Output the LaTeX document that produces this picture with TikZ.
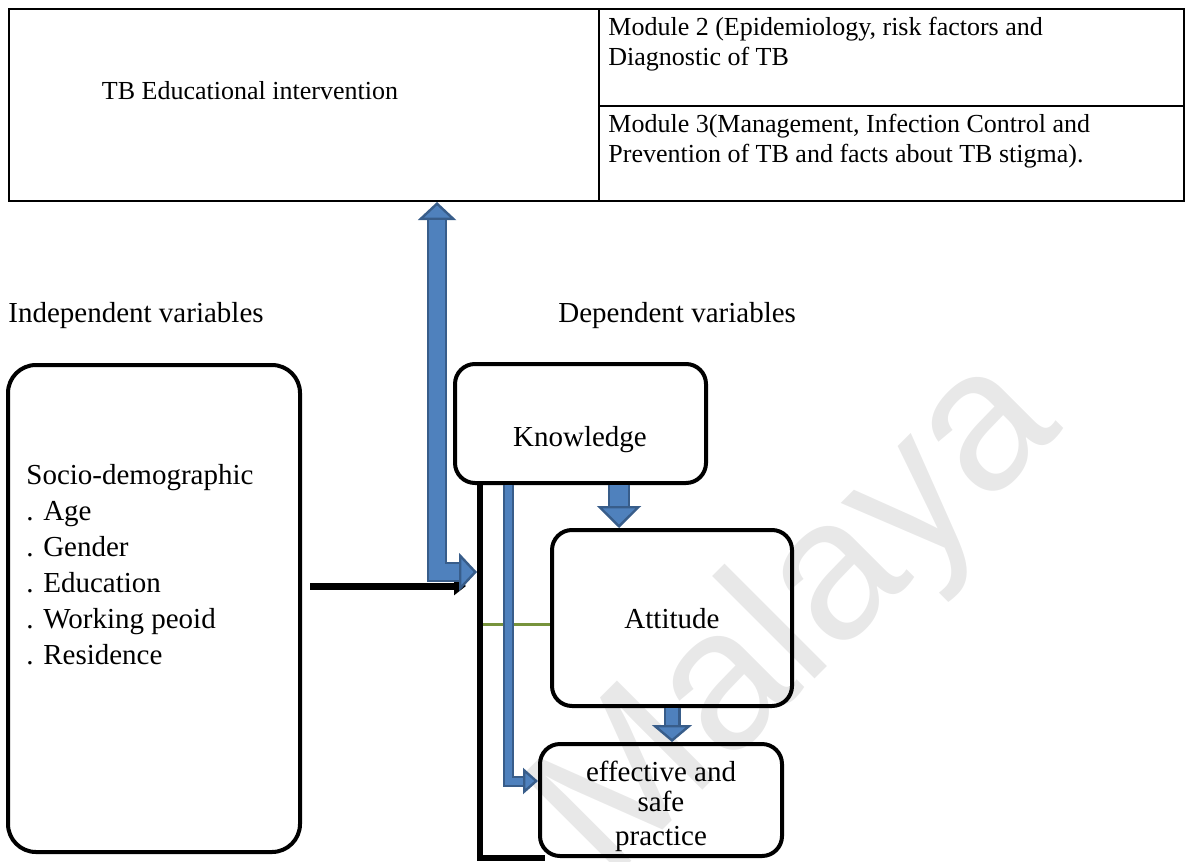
\documentclass[tikz,border=0pt]{standalone}
\usepackage{fontspec}
\setmainfont{Liberation Serif}
\newfontfamily\wmfont{Liberation Sans}
\usetikzlibrary{arrows.meta, positioning}
\definecolor{umfill}{RGB}{79,129,189}
\definecolor{umedge}{RGB}{56,93,138}
\definecolor{umgreen}{RGB}{119,147,60}
\definecolor{umwater}{RGB}{232,232,232}
\tikzset{
    cell/.style={draw, line width=1pt, inner sep=0pt, anchor=north west},
    celltext/.style={font=\fontsize{13}{15}\selectfont, align=left, anchor=north west, inner sep=0pt},
    varbox/.style={draw, line width=2pt, rounded corners=10pt, inner sep=0pt},
    lbl/.style={font=\fontsize{14.5}{15}\selectfont, inner sep=0pt},
    fatarrow/.style n args={4}{draw=umedge, line width=#1,
        -{Triangle[width=#3, length=#4, fill=umfill, line width=1.2pt 0]},
        postaction={draw=umfill, line width=#2, shorten >=#4, -}},
    fatboth/.style n args={4}{draw=umedge, line width=#1,
        {Triangle[width=#3, length=#4, fill=umfill, line width=1.2pt 0]}-{Triangle[width=#3, length=#4, fill=umfill, line width=1.2pt 0]},
        postaction={draw=umfill, line width=#2, shorten >=#4, shorten <=#4, -}},
    blackarrow/.style={line width=3.5pt, -{Triangle[width=9pt, length=6pt]}},
}

\begin{document}
\begin{tikzpicture}[x=0.5pt, y=-0.5pt]
    \useasboundingbox (0,0) rectangle (1186,861);
    \node[font=\wmfont\fontsize{100}{100}\selectfont, text=umwater, rotate=45, inner sep=0pt] (wm) at (800,620) {Malaya};
    \node[cell, minimum width=295pt, minimum height=96pt] (tb) at (8,8) {};
    \node[lbl, font=\fontsize{13}{15}\selectfont] (tbtext) at ([xshift=-27pt, yshift=7pt]tb.center) {TB Educational intervention};
    \node[cell, minimum width=292.5pt, minimum height=48.5pt] (mod2) at (598,8) {};
    \node[cell, minimum width=292.5pt, minimum height=47.5pt] (mod3) at (598,105) {};
    \node[celltext] (mod2text) at ([xshift=5pt, yshift=-4.5pt]mod2.north west) {Module 2 (Epidemiology, risk factors and\\Diagnostic of TB};
    \node[celltext] (mod3text) at ([xshift=5pt, yshift=-4.5pt]mod3.north west) {Module 3(Management, Infection Control and\\Prevention of TB and facts about TB stigma).};
    \node[lbl, anchor=base west] (indep) at (8,322) {Independent variables};
    \node[lbl, anchor=base west] (dep) at (558,322) {Dependent variables};
    \node[varbox, rounded corners=14pt, minimum width=146pt, minimum height=243.5pt] (soc) at (154,608.5) {};
    \node[lbl, anchor=base west] (sochead) at (26,484) {Socio-demographic};
    \foreach \entry [count=\i] in {Age, Gender, Education, Working peoid, Residence}
        \node[lbl, anchor=base west] (item\i) at (26,{484+36*\i}) {. \entry};
    \node[varbox, minimum width=125.5pt, minimum height=59.5pt] (know) at (580.5,423.5) {};
    \node[lbl, anchor=base] (knowtext) at (580,446) {Knowledge};
    \node[varbox, minimum width=120pt, minimum height=88pt] (att) at (672,618) {};
    \node[lbl, anchor=base] (atttext) at (672,628) {Attitude};
    \node[varbox, minimum width=121pt, minimum height=56pt] (eff) at (661,800) {};
    \node[lbl, anchor=north, align=center] (efftext) at (661,761) {effective and\\safe\\[2pt]practice};
    \coordinate (bar) at (480,572);
    \coordinate (bend) at (437,572);
    \coordinate (thin) at (508,781);
    \coordinate (kax) at (619,0);
    \coordinate (socout) at (310,586);
    \coordinate (barin) at (466,586);
    \coordinate (barend) at (545,858);
    \draw[line width=3pt] (know.south -| bar) -- (bar |- barend) -- (barend);
    \draw[umgreen, line width=1.5pt] ([xshift=1.5pt, yshift=-3pt]bar |- att.west) -- ([yshift=-3pt]att.west);
    \draw[blackarrow] (socout) -- (barin);
    \draw[fatboth={10pt}{7.6pt}{19pt}{9pt}] (tb.south -| bend) -- (bend) -- ([xshift=-1.5pt]bar);
    \draw[fatarrow={11pt}{8.6pt}{22pt}{11pt}] (know.south -| kax) -- (att.north -| kax);
    \draw[fatarrow={8.5pt}{6.1pt}{20pt}{8.5pt}] (att.south) -- (att.south |- eff.north);
    \draw[fatarrow={5.5pt}{3.5pt}{13pt}{7.5pt}] (know.south -| thin) -- (thin) -- (thin -| eff.west);
\end{tikzpicture}
\end{document}
